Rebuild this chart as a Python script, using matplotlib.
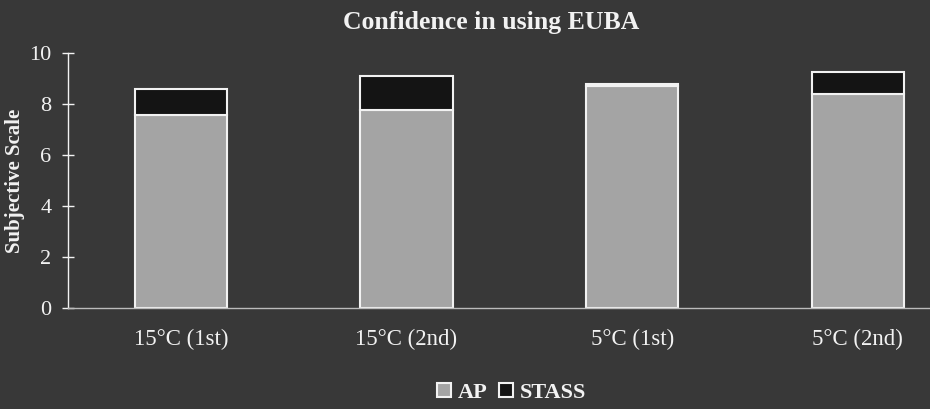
import matplotlib
matplotlib.use("Agg")
import matplotlib.pyplot as plt
from matplotlib.patches import Patch
import numpy as np

categories = ["15°C (1st)", "15°C (2nd)", "5°C (1st)", "5°C (2nd)"]
ap_values = [7.55, 7.75, 8.7, 8.4]
stass_values = [1.05, 1.35, 0.1, 0.85]
y_ticks = [0, 2, 4, 6, 8, 10]

BG = "#383838"
AP_COLOR = "#a4a4a4"
STASS_COLOR = "#141414"
FG = "#f2f2f2"
serif = ["Liberation Serif", "DejaVu Serif"]

fig = plt.figure(figsize=(9.3, 4.09), dpi=100)
fig.patch.set_facecolor(BG)
ax = fig.add_axes([0.0731, 0.2469, 0.9269, 0.6235])
ax.set_facecolor(BG)

x = np.arange(len(categories))
w = 0.41
ax.bar(x, ap_values, width=w, color=AP_COLOR, edgecolor=FG, linewidth=1.5, label="AP")
ax.bar(x, stass_values, width=w, bottom=ap_values, color=STASS_COLOR, edgecolor=FG,
       linewidth=1.5, label="STASS")

ax.set_xlim(-0.5, 3.32)
ax.set_ylim(0, 10)
ax.set_yticks(y_ticks)
ax.set_xticks(x)
ax.set_xticklabels(categories)

for s in ["top", "right"]:
    ax.spines[s].set_visible(False)
ax.spines["left"].set_color(FG)
ax.spines["left"].set_linewidth(1.0)
ax.spines["bottom"].set_color("#bbbbbb")
ax.spines["bottom"].set_linestyle((0, (1, 1)))
ax.spines["bottom"].set_linewidth(1.0)

ax.tick_params(axis="y", direction="inout", length=8, width=1, colors=FG,
               labelsize=16, pad=8)
ax.tick_params(axis="x", length=0, colors=FG, labelsize=16.5, pad=15)
for lab in ax.get_xticklabels() + ax.get_yticklabels():
    lab.set_family(serif)
    lab.set_color(FG)

ax.set_ylabel("Subjective Scale", fontsize=15, family=serif, color=FG,
              fontweight="bold")
ax.yaxis.set_label_coords(-0.050, 0.5)

fig.text(0.528, 0.944, "Confidence in using EUBA", ha="center", va="center",
         fontsize=18.5, fontweight="bold", family=serif, color=FG)

handles = [Patch(facecolor=AP_COLOR, edgecolor=FG, linewidth=1.5, label="AP"),
           Patch(facecolor=STASS_COLOR, edgecolor=FG, linewidth=1.5, label="STASS")]
leg = fig.legend(handles=handles, loc="center", bbox_to_anchor=(0.55, 0.04), ncol=2,
                 frameon=False, handlelength=0.65, handleheight=0.65,
                 handletextpad=0.3, columnspacing=0.5,
                 prop={"family": serif, "size": 16, "weight": "bold"})
for t in leg.get_texts():
    t.set_color(FG)

fig.savefig("out.png", dpi=100, facecolor=BG)
